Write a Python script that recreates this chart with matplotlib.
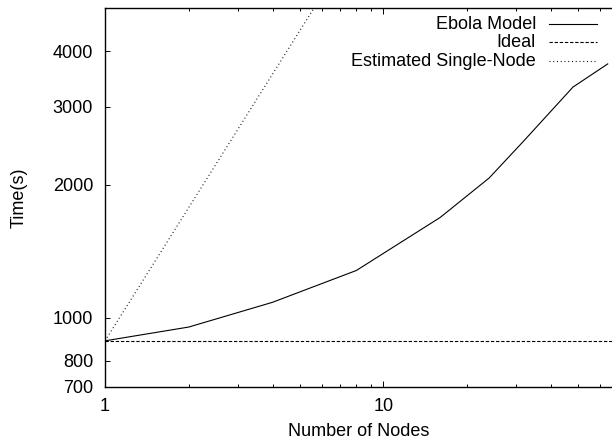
import matplotlib
matplotlib.use("Agg")
import matplotlib.pyplot as plt
from matplotlib.ticker import FixedLocator, NullFormatter, NullLocator, LogLocator

plt.rcParams['font.family'] = ['Liberation Sans', 'DejaVu Sans']
plt.rcParams['lines.scale_dashes'] = False

nodes = [1, 2, 4, 8, 16, 24, 32, 48, 64]
ebola = [888, 954, 1085, 1280, 1686, 2070, 2512, 3320, 3745]
ideal_time = 888
est_nodes = [1, 2, 4, 8]
estimated = [888, 1776, 3552, 7104]

yticks = [700, 800, 1000, 2000, 3000, 4000]
xticks = [1, 10]

fig = plt.figure(figsize=(6.12, 4.46), dpi=100)
ax = fig.add_axes([105 / 612, (446 - 386.6) / 446, 507 / 612, 378.3 / 446])

lw = 0.8
ax.plot(nodes, ebola, color='black', lw=lw, solid_joinstyle='miter')
ax.axhline(ideal_time, color='black', lw=lw, dashes=(2.4, 1.3))
ax.plot(est_nodes, estimated, color='black', lw=lw, dashes=(0.7, 2.0))

ax.set_xscale('log')
ax.set_yscale('log')
ax.set_xlim(1, 66.3)
ax.set_ylim(700, 5000)

ax.xaxis.set_major_locator(FixedLocator(xticks))
ax.set_xticklabels([str(t) for t in xticks])
ax.xaxis.set_minor_locator(LogLocator(base=10, subs=[2, 3, 4, 5, 6, 7, 8, 9]))
ax.xaxis.set_minor_formatter(NullFormatter())

ax.yaxis.set_major_locator(FixedLocator(yticks))
ax.set_yticklabels([str(t) for t in yticks])
ax.yaxis.set_minor_locator(NullLocator())
ax.yaxis.set_minor_formatter(NullFormatter())

ax.tick_params(axis='x', which='major', direction='in', length=4.3, width=0.7,
               top=True, bottom=True, labelsize=13, pad=8.3)
ax.tick_params(axis='x', which='minor', direction='in', length=2.4, width=0.7,
               top=True, bottom=True)
ax.tick_params(axis='y', which='major', direction='in', length=3.6, width=0.7,
               left=True, right=False, labelsize=13, pad=8.6)

for s in ['left', 'bottom', 'top']:
    ax.spines[s].set_linewidth(1.0)
ax.spines['right'].set_visible(False)

ax.set_xlabel('Number of Nodes', fontsize=13, va='baseline')
ax.xaxis.set_label_coords(0.5, (386.6 - 436.3) / 378.3)
ax.set_ylabel('Time(s)', fontsize=13, va='baseline')
ax.yaxis.set_label_coords((23.5 - 105) / 507, 0.5)

# legend (gnuplot style: right-aligned text, sample to the right)
labels = ['Ebola Model', 'Ideal', 'Estimated Single-Node']
styles = [dict(), dict(dashes=(2.4, 1.3)), dict(dashes=(0.7, 2.0))]
text_base = [29, 47, 65.7]
line_y = [24.3, 42.3, 61]
for lab, st, tb, ly in zip(labels, styles, text_base, line_y):
    ax.text(0.8501, (386.6 - tb) / 378.3, lab, transform=ax.transAxes,
            ha='right', va='baseline', fontsize=13)
    yy = (386.6 - ly) / 378.3
    ax.plot([0.8757, 0.9704], [yy, yy], transform=ax.transAxes,
            color='black', lw=lw, clip_on=False, **st)

fig.savefig('out.png', dpi=100)
